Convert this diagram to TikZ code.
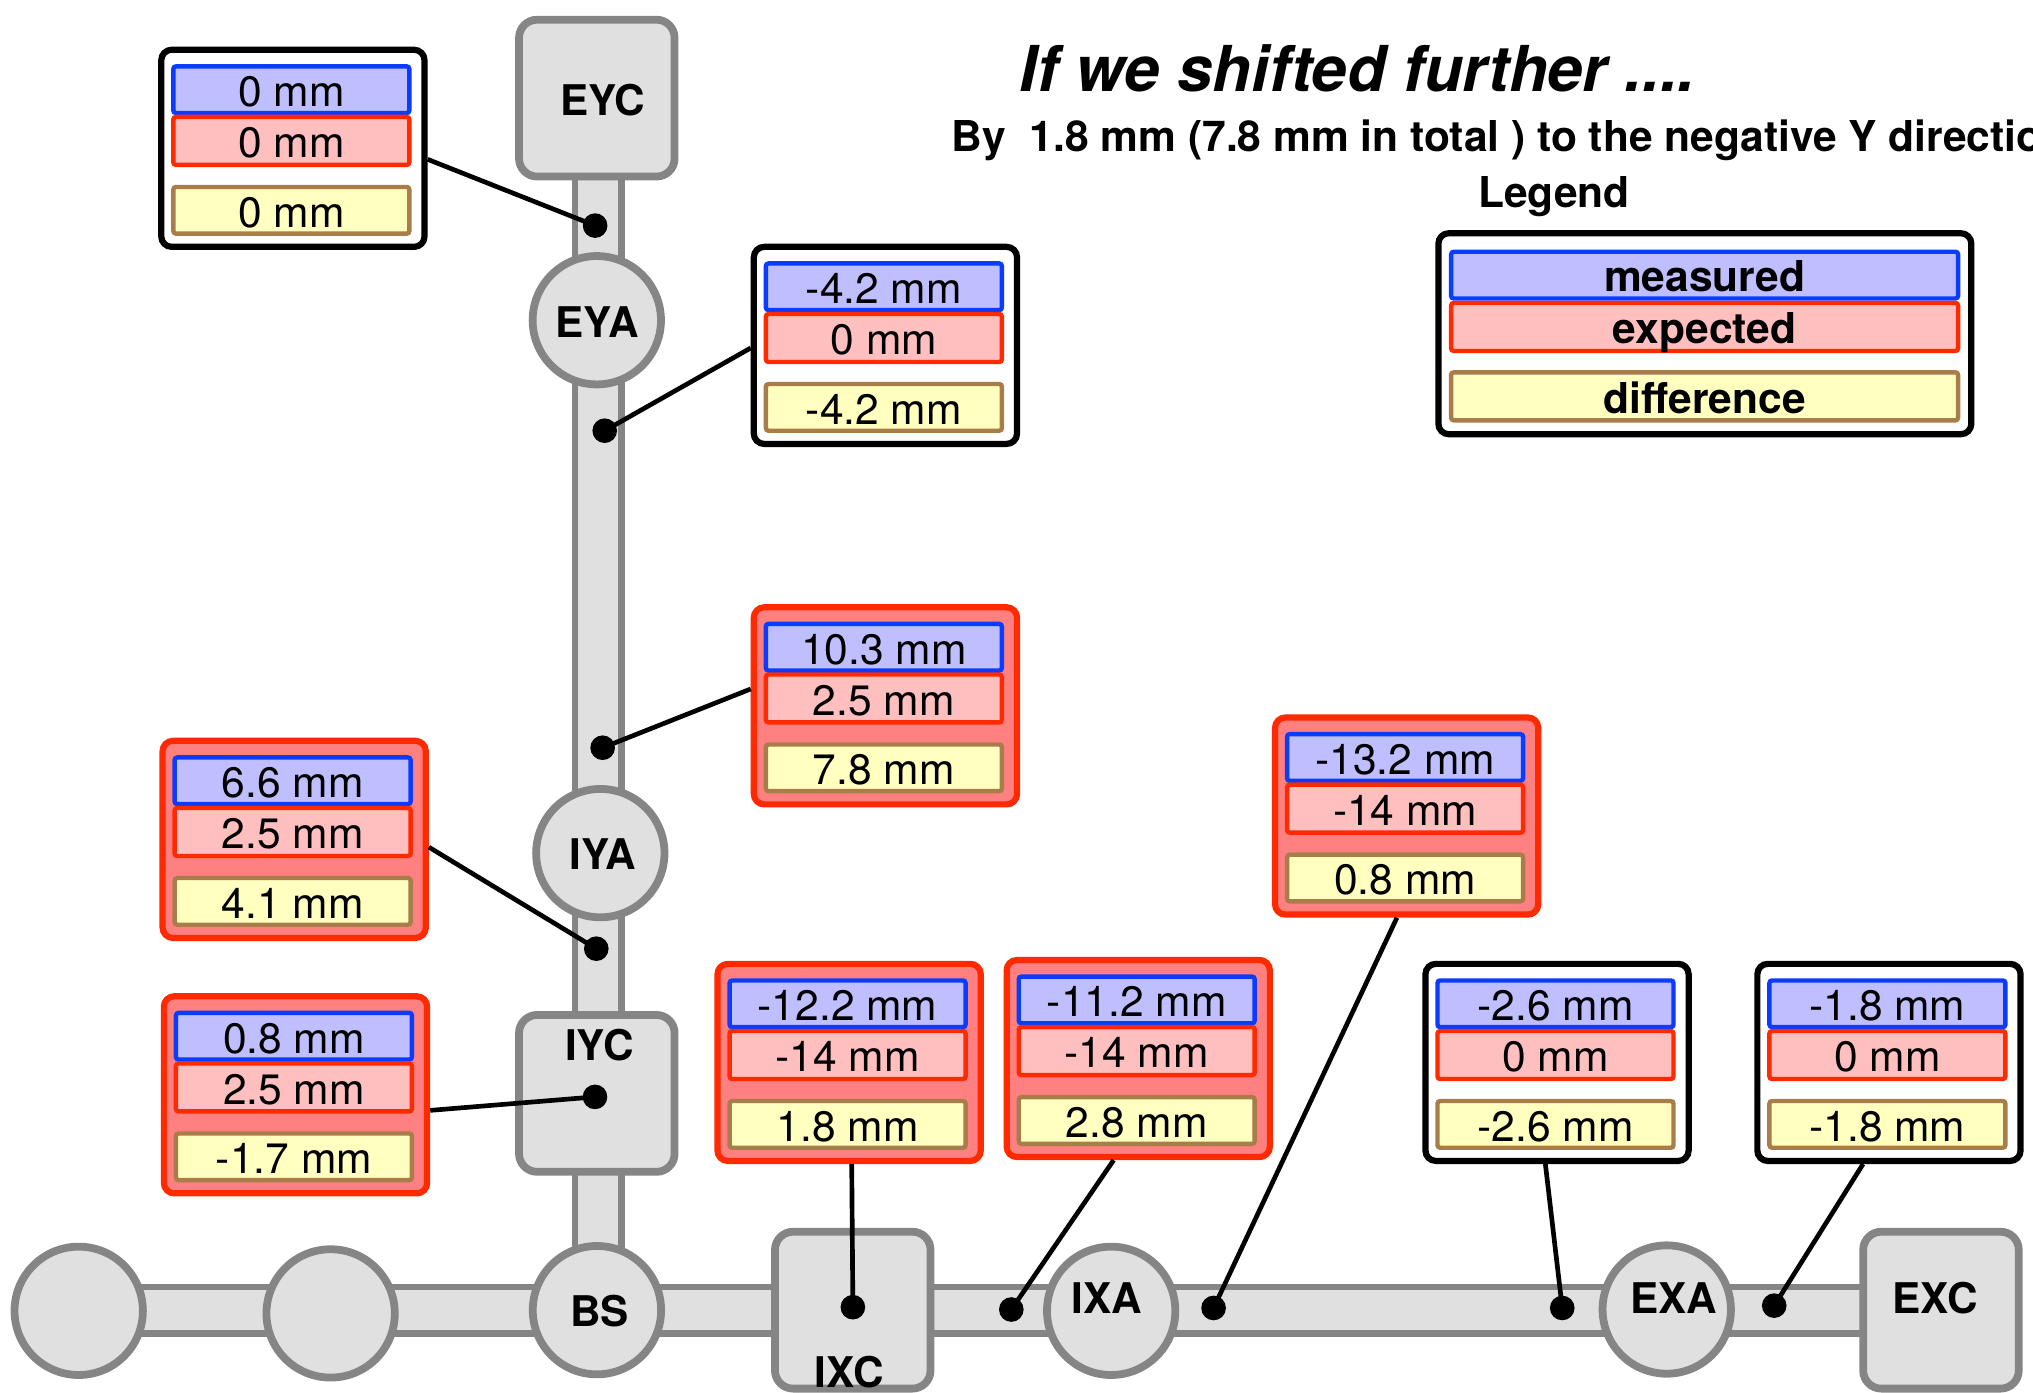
\documentclass[tikz,border=0pt]{standalone}
\usepackage{fontspec}
\setmainfont{TeX Gyre Heros}
\usetikzlibrary{calc}
\definecolor{trackfill}{HTML}{E0E0E0}
\definecolor{trackline}{HTML}{858585}
\definecolor{mblue}{HTML}{BFBFFF}
\definecolor{mbluel}{HTML}{0A3CFF}
\definecolor{mred}{HTML}{FFBFBF}
\definecolor{mredl}{HTML}{FF2A00}
\definecolor{myel}{HTML}{FFFFC0}
\definecolor{myell}{HTML}{A87D4A}
\definecolor{alarm}{HTML}{FF8080}
\tikzset{
  track/.style={fill=trackfill,draw=trackline,line width=2.5pt},
  station/.style={circle,fill=trackfill,draw=trackline,line width=3pt,minimum size=49.5pt,inner sep=0pt},
  chamber/.style={rectangle,rounded corners=7pt,fill=trackfill,draw=trackline,line width=3pt,minimum width=60pt,minimum height=60.5pt,inner sep=0pt},
  stlabel/.style={font=\bfseries\fontsize{16.3}{19}\selectfont,anchor=base,inner sep=0pt},
  okbox/.style={rectangle,rounded corners=4pt,fill=white,draw=black,line width=2.4pt,inner sep=0pt,minimum width=101.5pt,minimum height=76pt,anchor=north west},
  badbox/.style={okbox,fill=alarm,draw=mredl},
  inbox/.style={rectangle,rounded corners=1pt,line width=1.7pt,inner sep=0pt,minimum width=91pt,anchor=north west,text height=13pt,text depth=0pt,font=\fontsize{16.4}{19}\selectfont},
  measbox/.style={inbox,fill=mblue,draw=mbluel,minimum height=18pt},
  expbox/.style={inbox,fill=mred,draw=mredl,minimum height=18.5pt},
  diffbox/.style={inbox,fill=myel,draw=myell,minimum height=18pt},
  dot/.style={circle,fill=black,inner sep=0pt,minimum size=9.5pt},
  conn/.style={draw=black,line width=1.8pt},
  headtext/.style={inner sep=0pt,font=\bfseries\fontsize{16.4}{19}\selectfont},
}
\newcommand{\callout}[7]{%
  \node[#4] (#1) at (#2,#3) {};
  \node[measbox] (#1m) at (#2+10,#3+13.5) {#5};
  \node[expbox] (#1e) at (#2+10,#3+52.5) {#6};
  \node[diffbox] (#1d) at (#2+10,#3+106.5) {#7};
}
\begin{document}
\begin{tikzpicture}[x=0.5pt,y=-0.5pt]
\useasboundingbox (0,0) rectangle (1568,1074);
\clip (0,0) rectangle (1568,1074);
% tracks
\path[track] (443.5,75) rectangle (479.5,1010);
\path[track] (60,992.5) rectangle (1497,1028.5);
% stations
\node[station] (c1) at (60.7,1011) {};
\node[station] (c2) at (255,1013) {};
\node[station] (BS) at (460.4,1010.5) {};
\node[station] (EYA) at (460.3,247) {};
\node[station] (IYA) at (463,658) {};
\node[station] (IXA) at (857,1011) {};
\node[station] (EXA) at (1285.5,1010) {};
\node[chamber] (EYC) at (460.3,75.7) {};
\node[chamber] (IYC) at (460.3,843.3) {};
\node[chamber] (IXC) at (657.7,1010.5) {};
\node[chamber] (EXC) at (1497,1010.5) {};
% station labels
\node[stlabel] (lEYC) at (464.8,89) {EYC};
\node[stlabel] (lEYA) at (460.8,260) {EYA};
\node[stlabel] (lIYA) at (464.9,671) {IYA};
\node[stlabel] (lIYC) at (462.3,818) {IYC};
\node[stlabel] (lBS) at (462.3,1023) {BS};
\node[stlabel] (lIXC) at (654.8,1070) {IXC};
\node[stlabel] (lIXA) at (853.5,1013) {IXA};
\node[stlabel] (lEXA) at (1291,1013) {EXA};
\node[stlabel] (lEXC) at (1492.4,1013) {EXC};
% titles
\node[inner sep=0pt,anchor=base,font=\bfseries\itshape\fontsize{24.4}{29}\selectfont] (title) at (1047,70.6) {If we shifted further ....};
\node[headtext,anchor=base west] (sub) at (733.8,117) {By\ \ 1.8 mm (7.8 mm in total ) to the negative Y direction};
\node[headtext,anchor=base] (legtitle) at (1198.5,160) {Legend};
% legend
\node[okbox,minimum width=205.5pt,minimum height=77.5pt] (legend) at (1107,177.5) {};
\node[measbox,minimum width=195.5pt,font=\bfseries\fontsize{16.4}{19}\selectfont] (legm) at (1117.5,192.5) {measured};
\node[expbox,minimum width=195.5pt,font=\bfseries\fontsize{16.4}{19}\selectfont] (lege) at (1117.5,232) {expected};
\node[diffbox,minimum width=195.5pt,minimum height=18.5pt,font=\bfseries\fontsize{16.4}{19}\selectfont] (legd) at (1117.5,285.5) {difference};
% callouts
\callout{cA}{122}{36}{okbox}{0 mm}{0 mm}{0 mm}
\callout{cB}{579}{188}{okbox}{-4.2 mm}{0 mm}{-4.2 mm}
\callout{cC}{579}{466}{badbox}{10.3 mm}{2.5 mm}{7.8 mm}
\callout{cD}{123}{569}{badbox}{6.6 mm}{2.5 mm}{4.1 mm}
\callout{cE}{124}{766}{badbox}{0.8 mm}{2.5 mm}{-1.7 mm}
\callout{cF}{551}{741}{badbox}{-12.2 mm}{-14 mm}{1.8 mm}
\callout{cG}{774}{738}{badbox}{-11.2 mm}{-14 mm}{2.8 mm}
\callout{cH}{981}{551}{badbox}{-13.2 mm}{-14 mm}{0.8 mm}
\callout{cI}{1097}{741}{okbox}{-2.6 mm}{0 mm}{-2.6 mm}
\callout{cJ}{1353}{741}{okbox}{-1.8 mm}{0 mm}{-1.8 mm}
% measurement points
\coordinate (p1) at (459,174);
\coordinate (p2) at (466.4,332.2);
\coordinate (p3) at (464.8,576.7);
\coordinate (p4) at (459.9,731.7);
\coordinate (p5) at (458.9,846);
\coordinate (p6) at (657.8,1008.2);
\coordinate (p7) at (780,1010);
\coordinate (p8) at (936,1008.8);
\coordinate (p9) at (1204.9,1008.8);
\coordinate (p10) at (1368.4,1007);
% connectors
\draw[conn] ($(cA.east)+(0,8.5)$) -- (p1);
\draw[conn] ($(cB.west)+(0,2)$) -- (p2);
\draw[conn] ($(cC.west)+(0,-13)$) -- (p3);
\draw[conn] ($(cD.east)+(0,6)$) -- (p4);
\draw[conn] ($(cE.east)+(0,12)$) -- (p5);
\draw[conn] ($(cF.south)+(2,0)$) -- (p6);
\draw[conn] ($(cG.south)+(-19,0)$) -- (p7);
\draw[conn] ($(cH.south)+(-7.5,0)$) -- (p8);
\draw[conn] ($(cI.south)+(-9,0)$) -- (p9);
\draw[conn] ($(cJ.south)+(-20,0)$) -- (p10);
% dots
\node[dot] (d1) at (p1) {};
\node[dot] (d2) at (p2) {};
\node[dot] (d3) at (p3) {};
\node[dot] (d4) at (p4) {};
\node[dot] (d5) at (p5) {};
\node[dot] (d6) at (p6) {};
\node[dot] (d7) at (p7) {};
\node[dot] (d8) at (p8) {};
\node[dot] (d9) at (p9) {};
\node[dot] (d10) at (p10) {};
\end{tikzpicture}
\end{document}
